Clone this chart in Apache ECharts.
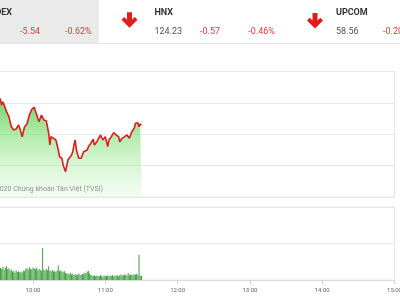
<!DOCTYPE html>
<html>
<head>
<meta charset="utf-8">
<script src="https://cdn.jsdelivr.net/npm/echarts@6/dist/echarts.min.js"></script>
<style>
html,body{margin:0;padding:0;background:#fff;}
#chart{width:400px;height:300px;}
</style>
</head>
<body>
<div id="chart"></div>
<script>
// Time axis tick labels
var tickLabels = ['09:00','10:00','11:00','12:00','13:00','14:00','15:00'];

// Intraday index (price) points
var priceTimes = ['09:31','09:32','09:33','09:34','09:35','09:37','09:38','09:40','09:42','09:44',
  '09:46','09:48','09:49','09:51','09:53','09:55','09:57','09:59','10:01','10:02',
  '10:04','10:05','10:07','10:09','10:11','10:13','10:14','10:15','10:17','10:19',
  '10:21','10:22','10:24','10:25','10:27','10:29','10:30','10:32','10:33','10:34',
  '10:35','10:36','10:38','10:40','10:42','10:45','10:46','10:48','10:50','10:51',
  '10:53','10:56','10:57','10:58','11:00','11:02','11:03','11:05','11:07','11:09',
  '11:11','11:12','11:14','11:16','11:18','11:19','11:20','11:22','11:24','11:25',
  '11:27','11:28','11:29','11:30'];
var priceValues = [896.20,895.80,895.46,894.66,895.19,894.18,893.59,892.80,891.20,890.68,
  890.84,891.47,891.00,889.61,891.20,891.63,893.07,893.98,894.29,894.50,
  892.54,892.00,893.07,892.27,892.16,890.20,888.29,889.61,889.35,889.08,
  887.49,886.42,886.17,885.10,884.03,885.90,885.63,886.69,887.22,888.29,
  889.08,887.49,886.17,886.17,887.22,887.49,888.02,888.56,889.20,888.29,
  888.81,889.88,889.99,889.08,889.61,888.02,889.08,889.61,890.25,889.88,
  889.61,888.81,889.35,889.61,889.88,890.15,889.35,890.41,890.95,891.75,
  891.84,891.20,891.63,891.47];

// Per-minute volume, 09:33 .. 11:30
var volumeStart = '09:33';
var volumeValues = [330,300,360,280,340,370,300,320,260,290,
  230,250,200,270,220,240,210,230,200,260,
  240,300,330,280,350,310,290,340,320,300,
  330,260,300,280,250,880,290,260,300,270,
  380,260,240,280,230,250,220,270,400,240,
  260,230,210,250,200,180,170,160,190,150,
  170,140,160,150,130,180,150,140,170,160,
  200,190,230,250,180,140,120,110,130,100,
  120,110,100,130,110,90,120,100,110,130,
  100,120,110,140,100,110,130,120,100,140,
  150,120,130,160,140,120,190,130,150,140,
  160,130,150,170,140,690,120,110];

// Header quotes
var quoteNames = ['VNINDEX','HNX','UPCOM'];
var quoteChanges = ['-5.54','-0.57','-0.20'];
var quotePercents = ['-0.62%','-0.46%',''];
var quoteValues = ['','124.23','58.56'];

function toMin(s){ var p=s.split(':'); return (+p[0])*60 + (+p[1]); }
function fmt(m){ var h=Math.floor(m/60), mm=m%60; return (h<10?'0':'')+h+':'+(mm<10?'0':'')+mm; }

var priceData = priceTimes.map(function(t,i){ return [toMin(t), priceValues[i]]; });
var v0 = toMin(volumeStart);
var volData = volumeValues.map(function(v,i){ return [v0+i, v]; });

var font = 'Roboto, "Noto Sans", sans-serif';
var red = '#d8413b';

function arrow(cx, y0){
  return {type:'polygon', silent:true, shape:{points:[
    [cx-2.5,y0],[cx+2.5,y0],[cx+2.5,y0+7.5],[cx+5.3,y0+4.7],[cx+8,y0+7.4],
    [cx,y0+15.4],[cx-8,y0+7.4],[cx-5.3,y0+4.7],[cx-2.5,y0+7.5]]},
    style:{fill:'#e41b17'}};
}
function txt(x,y,t,opt){
  opt = opt||{};
  return {type:'text', silent:true, x:x, y:y, style:{text:t, fill:opt.color||'#555',
    font:(opt.bold?'bold ':'')+(opt.size||9)+'px '+font, textAlign:opt.align||'left', textVerticalAlign:'middle'}};
}

var chart = echarts.init(document.getElementById('chart'), null, {renderer:'canvas'});
var gl = -39.3, gr = 5.5;
chart.setOption({
  animation:false,
  backgroundColor:'#fff',
  grid:[
    {left:gl, right:gr, top:71.5, height:125.5, show:true, borderColor:'#e6e6e6', borderWidth:1,
     containLabel:false, outerBoundsMode:'none'},
    {left:gl, right:gr, top:207, height:73, show:true, borderColor:'#e6e6e6', borderWidth:1,
     containLabel:false, outerBoundsMode:'none'}
  ],
  xAxis:[
    {type:'value', gridIndex:0, min:540, max:900, interval:60,
     axisLine:{show:false}, axisTick:{show:false}, axisLabel:{show:false}, splitLine:{show:false}},
    {type:'value', gridIndex:1, min:540, max:900, interval:60,
     axisLine:{show:true, lineStyle:{color:'#dcdcdc'}},
     axisTick:{show:true, length:4, lineStyle:{color:'#cfcfcf'}},
     axisLabel:{show:true, margin:7, fontSize:6, color:'#666', fontFamily:font,
       formatter:function(v){ return tickLabels[Math.round((v-540)/60)] || fmt(v); }},
     splitLine:{show:false}}
  ],
  yAxis:[
    {type:'value', gridIndex:0, min:880, max:900, interval:5,
     axisLine:{show:false}, axisTick:{show:false}, axisLabel:{show:false},
     splitLine:{show:true, lineStyle:{color:'#e8e8e8'}}},
    {type:'value', gridIndex:1, min:0, max:2000, interval:1000,
     axisLine:{show:false}, axisTick:{show:false}, axisLabel:{show:false},
     splitLine:{show:true, lineStyle:{color:'#e8e8e8'}}}
  ],
  series:[
    {type:'line', xAxisIndex:0, yAxisIndex:0, data:priceData, showSymbol:false,
     lineStyle:{color:'#d81e1e', width:1.6}, itemStyle:{color:'#d81e1e'},
     areaStyle:{opacity:1, color:new echarts.graphic.LinearGradient(0,0,0,1,[
       {offset:0, color:'rgba(95,208,85,0.95)'},
       {offset:0.45, color:'rgba(150,228,140,0.65)'},
       {offset:1, color:'rgba(215,246,210,0.3)'}])}},
    {type:'bar', xAxisIndex:1, yAxisIndex:1, data:volData, barWidth:1,
     itemStyle:{color:'#3f9f3f'}}
  ],
  graphic:[
    {type:'rect', silent:true, shape:{x:0,y:0,width:99,height:43}, style:{fill:'#ebebeb'}},
    {type:'line', silent:true, shape:{x1:0,y1:43.5,x2:400,y2:43.5}, style:{stroke:'#e4e4e4', lineWidth:1}},
    txt(12,12.7,quoteNames[0],{bold:true,color:'#333',align:'right'}),
    txt(20,32.2,quoteChanges[0],{color:red}),
    txt(65,32.2,quotePercents[0],{color:red}),
    arrow(129.5,12.3),
    txt(154.5,12.7,quoteNames[1],{bold:true,color:'#333'}),
    txt(154.5,32.2,quoteValues[1],{color:'#555'}),
    txt(200,32.2,quoteChanges[1],{color:red}),
    txt(248.3,32.2,quotePercents[1],{color:red}),
    arrow(315,13),
    txt(336,12.7,quoteNames[2],{bold:true,color:'#333'}),
    txt(336,32.2,quoteValues[2],{color:'#555'}),
    txt(383,32.2,quoteChanges[2],{color:red}),
    txt(103,189,'© 2020 Chứng khoán Tân Việt (TVSI)',{size:7,color:'#666',align:'right'})
  ]
});
</script>
</body>
</html>
